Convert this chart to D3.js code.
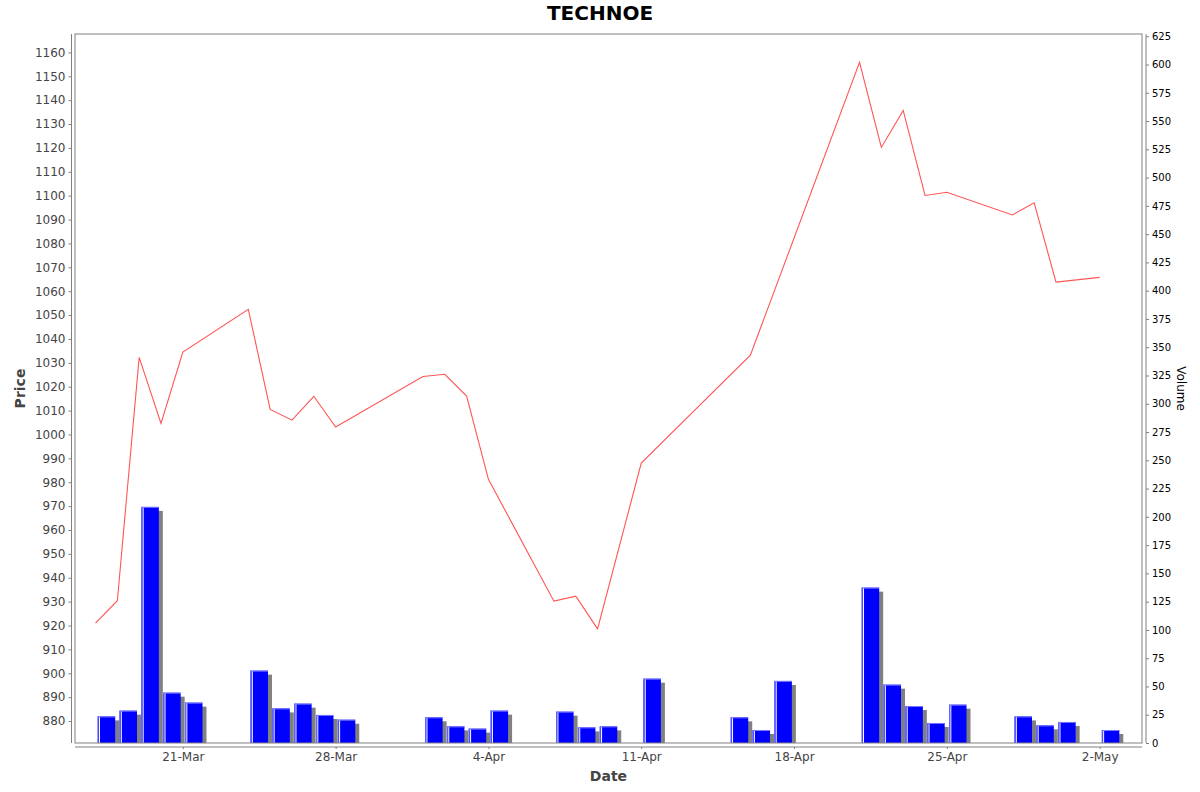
<!DOCTYPE html>
<html>
<head>
<meta charset="utf-8">
<script src="https://cdn.jsdelivr.net/npm/d3@7"></script>
<style>
  html, body { margin: 0; padding: 0; background: #fff; }
  svg { display: block; font-family: "DejaVu Sans", sans-serif; }
</style>
</head>
<body>
<svg id="chart" width="1200" height="792"></svg>
<script>
// ---- data ----
const title = "TECHNOE";
const dates = [
  "2025-03-17","2025-03-18","2025-03-19","2025-03-20","2025-03-21",
  "2025-03-24","2025-03-25","2025-03-26","2025-03-27","2025-03-28",
  "2025-04-01","2025-04-02","2025-04-03","2025-04-04",
  "2025-04-07","2025-04-08","2025-04-09","2025-04-11",
  "2025-04-15","2025-04-16","2025-04-17",
  "2025-04-21","2025-04-22","2025-04-23","2025-04-24","2025-04-25",
  "2025-04-28","2025-04-29","2025-04-30",
  "2025-05-02"
];
const prices = [
  921.0, 930.4, 1032.3, 1004.6, 1034.5,
  1052.4, 1010.5, 1006.0, 1016.0, 1003.1,
  1024.3, 1025.2, 1016.1, 981.2,
  930.2, 932.3, 918.6, 988.0,
  null, 1033.2, null,
  1155.8, 1120.2, 1135.7, 1100.1, 1101.4,
  1091.9, 1097.0, 1063.8,
  1065.8
];
const volumes = [
  23.5, 28.6, 208.8, 44.5, 35.7,
  64.0, 30.6, 34.8, 24.8, 20.6,
  22.7, 14.7, 12.7, 28.6,
  27.7, 13.8, 14.7, 56.9,
  22.7, 11.5, 54.9,
  137.4, 51.6, 32.7, 17.7, 33.9,
  23.5, 15.6, 18.6,
  11.5
];
const xTickDates = ["2025-03-21","2025-03-28","2025-04-04","2025-04-11","2025-04-18","2025-04-25","2025-05-02"];
const priceTicks = d3.range(880, 1161, 10);
const volumeTicks = d3.range(0, 626, 25);
const priceDomain = [870.8, 1167.7];
const volumeDomain = [0, 627];

// ---- layout ----
const svg = d3.select("#chart");
const L = 75, R = 1142, T = 34, B = 743;
const DAY = 86400000;
const parse = d3.utcParse("%Y-%m-%d");
const dts = dates.map(parse);

const first = dts[0].getTime(), last = dts[dts.length - 1].getTime() + DAY;
const pad = (last - first) * 0.02;
const x = d3.scaleUtc().domain([new Date(first - pad), new Date(last + pad)]).range([L, R]);
const yP = d3.scaleLinear().domain(priceDomain).range([B, T]);
const yV = d3.scaleLinear().domain(volumeDomain).range([B, T]);

// title
svg.append("text").attr("x", 600).attr("y", 20).attr("text-anchor", "middle")
  .attr("font-size", 20).attr("font-weight", "bold").attr("fill", "#000").text(title);

// plot background
svg.append("rect").attr("x", L).attr("y", T).attr("width", R - L).attr("height", B - T)
  .attr("fill", "#fff");

// bars
const barG = svg.append("g");
dts.forEach((d, i) => {
  const x0 = x(new Date(d.getTime() + 0.1 * DAY));
  const x1 = x(new Date(d.getTime() + 0.9 * DAY));
  const yt = yV(volumes[i]);
  const w = x1 - x0, h = B - yt;
  barG.append("rect").attr("x", x0 + 4).attr("y", yt + 4).attr("width", w).attr("height", Math.max(0, h - 4))
    .attr("fill", "#808080");
  barG.append("rect").attr("x", x0).attr("y", yt).attr("width", w).attr("height", h).attr("fill", "#0000ff");
  barG.append("rect").attr("x", x0).attr("y", yt).attr("width", 1).attr("height", h).attr("fill", "#6666ff");
  barG.append("rect").attr("x", x0 + 1.3).attr("y", yt).attr("width", 1).attr("height", h).attr("fill", "#ffffff");
  barG.append("rect").attr("x", x0).attr("y", yt).attr("width", w).attr("height", 1).attr("fill", "#7777ff");
});

// price line
const pts = dts.map((d, i) => [d, prices[i]]).filter(p => p[1] != null);
svg.append("path").datum(pts)
  .attr("fill", "none").attr("stroke", "#ff5555").attr("stroke-width", 1.1)
  .attr("d", d3.line().x(p => x(p[0])).y(p => yP(p[1])));

// frame
svg.append("rect").attr("x", L).attr("y", T).attr("width", R - L).attr("height", B - T)
  .attr("fill", "none").attr("stroke", "#808080").attr("stroke-width", 1);

// left axis
const axL = svg.append("g").attr("transform", `translate(${L - 3.5},0)`)
  .call(d3.axisLeft(yP).tickValues(priceTicks).tickFormat(d3.format("d")).tickSize(3).tickPadding(3).tickSizeOuter(0));
axL.select(".domain").attr("stroke", "#808080").attr("d", `M0,${T}V${B}`);
axL.selectAll(".tick line").attr("stroke", "#808080");
axL.selectAll(".tick text").attr("font-size", 12).attr("fill", "#444").attr("font-family", "DejaVu Sans, sans-serif");

// right axis
const axR = svg.append("g").attr("transform", `translate(${R + 4},0)`)
  .call(d3.axisRight(yV).tickValues(volumeTicks).tickFormat(d3.format("d")).tickSize(3).tickPadding(3).tickSizeOuter(0));
axR.select(".domain").attr("stroke", "#808080").attr("d", `M0,${T}V${B}`);
axR.selectAll(".tick line").attr("stroke", "#808080");
axR.selectAll(".tick text").attr("font-size", 10).attr("fill", "#000").attr("font-family", "DejaVu Sans, sans-serif");

// bottom axis
const axB = svg.append("g").attr("transform", `translate(0,${B + 4})`)
  .call(d3.axisBottom(x).tickValues(xTickDates.map(parse)).tickFormat(d3.utcFormat("%-d-%b"))
    .tickSize(2).tickPadding(3).tickSizeOuter(0));
axB.select(".domain").attr("stroke", "#808080").attr("d", `M${L},0H${R}`);
axB.selectAll(".tick line").attr("stroke", "#808080");
axB.selectAll(".tick text").attr("font-size", 12).attr("fill", "#444").attr("font-family", "DejaVu Sans, sans-serif");

// axis titles
svg.append("text").attr("x", (L + R) / 2).attr("y", 781).attr("text-anchor", "middle")
  .attr("font-size", 14).attr("font-weight", "bold").attr("fill", "#444").text("Date");
svg.append("text").attr("transform", `translate(25,${(T + B) / 2}) rotate(-90)`).attr("text-anchor", "middle")
  .attr("font-size", 14).attr("font-weight", "bold").attr("fill", "#444").text("Price");
svg.append("text").attr("transform", `translate(1177,${(T + B) / 2}) rotate(90)`).attr("text-anchor", "middle")
  .attr("font-size", 12).attr("fill", "#000").text("Volume");
</script>
</body>
</html>
